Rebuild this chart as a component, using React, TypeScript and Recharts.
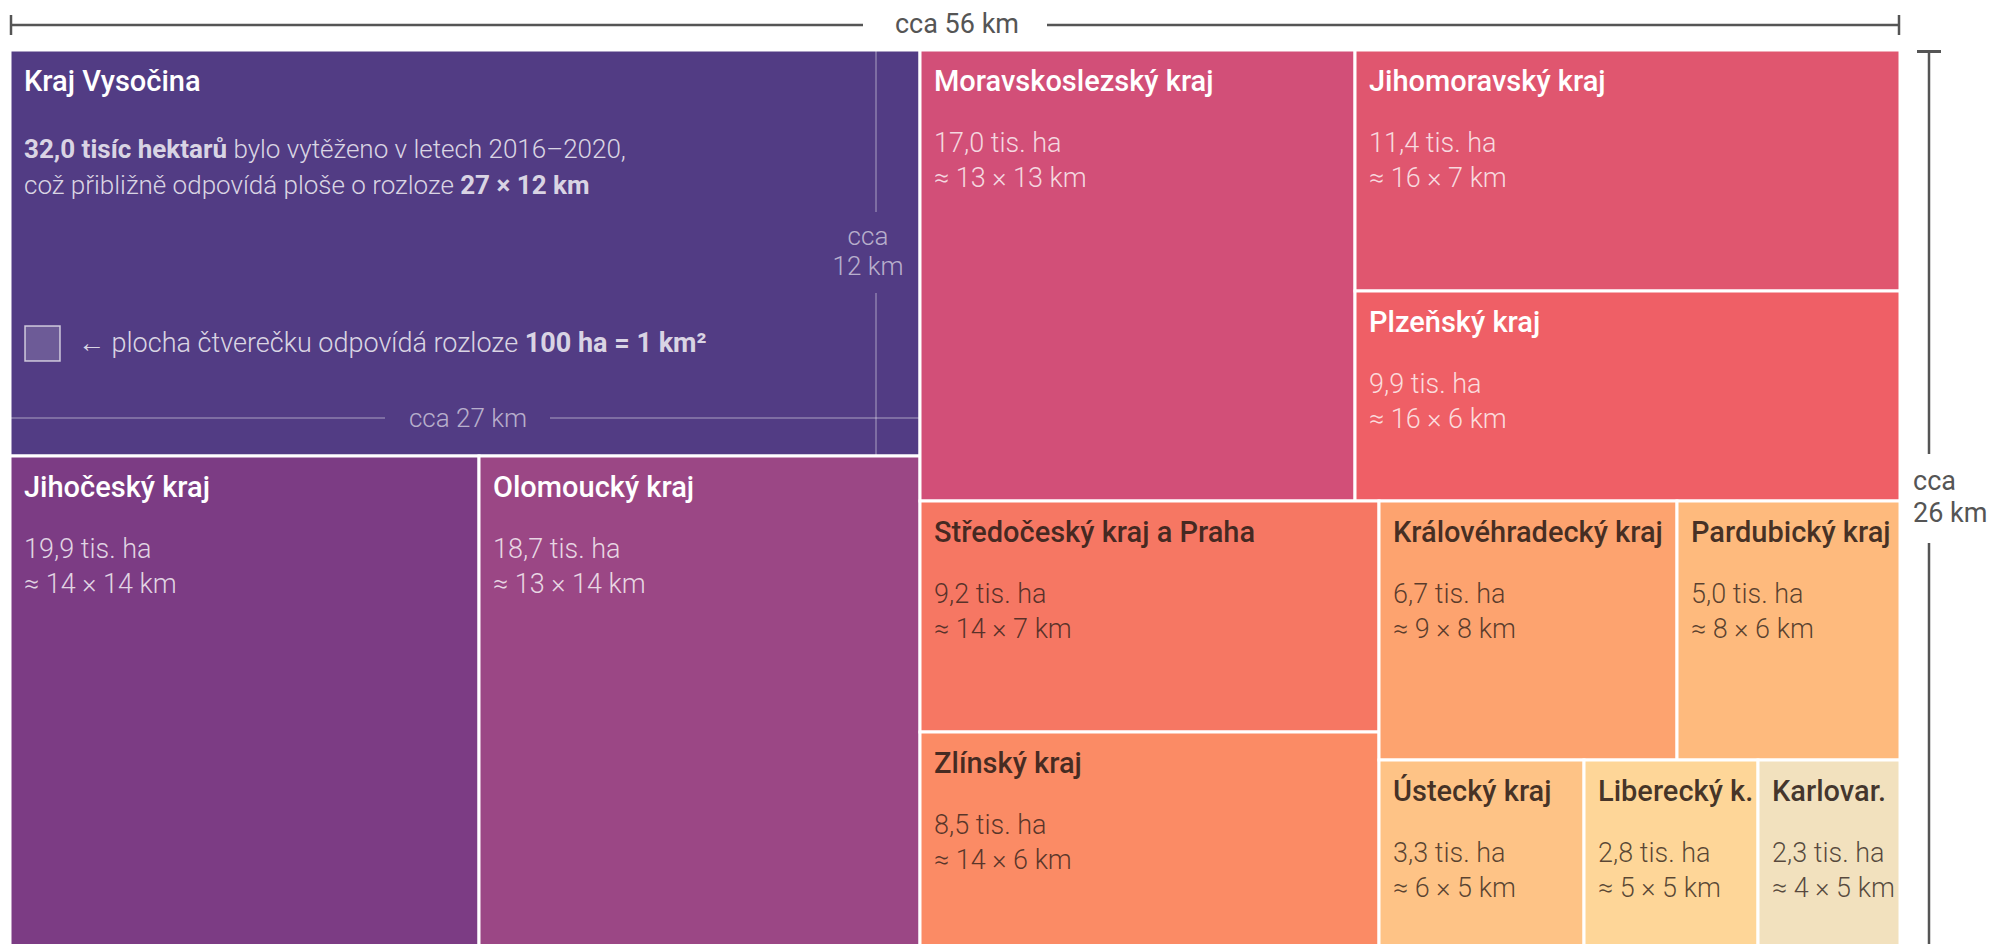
import React from 'react';
import { Treemap } from 'recharts';

// vytěžená plocha v letech 2016–2020, tisíce hektarů
const regions = [
  'Kraj Vysočina',
  'Jihočeský kraj',
  'Olomoucký kraj',
  'Moravskoslezský kraj',
  'Jihomoravský kraj',
  'Plzeňský kraj',
  'Středočeský kraj a Praha',
  'Zlínský kraj',
  'Královéhradecký kraj',
  'Pardubický kraj',
  'Ústecký kraj',
  'Liberecký k.',
  'Karlovar.',
];
const harvested = [32.0, 19.9, 18.7, 17.0, 11.4, 9.9, 9.2, 8.5, 6.7, 5.0, 3.3, 2.8, 2.3];
const sideKm = [
  [27, 12], [14, 14], [13, 14], [13, 13], [16, 7], [16, 6], [14, 7],
  [14, 6], [9, 8], [8, 6], [6, 5], [5, 5], [4, 5],
];
const tileColors = [
  '#523c84', '#7c3c84', '#9b4785', '#d24f78', '#e0566f', '#ef5f66', '#f67763',
  '#fb8b65', '#fda36f', '#feba7d', '#fec386', '#fed698', '#f2e1be',
];

// nesting of the regions (indexes) so the squarify split follows the original
type Nest = number | Nest[];
const nesting: Nest[] = [0, [1, 2], [[3, [4, 5]], [[6, 7], [[8, 9], [10, 11, 12]]]]];

const toNode = (n: Nest): any =>
  typeof n === 'number'
    ? { name: regions[n], size: harvested[n], idx: n }
    : { name: 'skupina', children: n.map(toNode) };
const treeData = nesting.map(toNode);

const fmt = (v: number) => v.toFixed(1).replace('.', ',');
const FONT = 'Roboto, "Noto Sans", sans-serif';
const GREY = '#555';

const VysocinaNotes = ({ x, y, width, height }: any) => {
  const text = 'rgba(255,255,255,0.8)';
  const faint = 'rgba(255,255,255,0.6)';
  const line = 'rgba(255,255,255,0.35)';
  const vx = x + width - 44;
  const hy = y + height - 38;
  return (
    <g>
      <text x={x + 14} y={y + 108} fontSize={26} fontWeight={300} fill={text}>
        <tspan fontWeight={700}>32,0 tisíc hektarů</tspan> bylo vytěženo v letech 2016–2020,
      </text>
      <text x={x + 14} y={y + 144} fontSize={26} fontWeight={300} fill={text}>
        což přibližně odpovídá ploše o rozloze <tspan fontWeight={700}>27 × 12 km</tspan>
      </text>
      <rect x={x + 15} y={y + 276} width={35} height={35} fill="rgba(255,255,255,0.16)" stroke="rgba(255,255,255,0.7)" strokeWidth={1.5} />
      <text x={x + 68} y={y + 302} fontSize={27} fontWeight={300} fill={text}>
        ← plocha čtverečku odpovídá rozloze <tspan fontWeight={700}>100 ha = 1 km²</tspan>
      </text>
      <line x1={vx} x2={vx} y1={y} y2={y + 162} stroke={line} strokeWidth={1.5} />
      <line x1={vx} x2={vx} y1={y + 243} y2={y + height} stroke={line} strokeWidth={1.5} />
      <text x={vx - 8} y={y + 195} fontSize={26} fontWeight={300} fill={faint} textAnchor="middle">cca</text>
      <text x={vx - 8} y={y + 225} fontSize={26} fontWeight={300} fill={faint} textAnchor="middle">12 km</text>
      <line x1={x} x2={x + 375} y1={hy} y2={hy} stroke={line} strokeWidth={1.5} />
      <line x1={x + 540} x2={x + width} y1={hy} y2={hy} stroke={line} strokeWidth={1.5} />
      <text x={x + 458} y={hy + 9} fontSize={26} fontWeight={300} fill={faint} textAnchor="middle">cca 27 km</text>
    </g>
  );
};

const renderTile = (p: any) => {
  const { x, y, width, height, idx, children } = p;
  if ((children && children.length) || idx === undefined) return <g />;
  const light = idx >= 6;
  const titleColor = light ? 'rgba(45,30,25,0.88)' : '#ffffff';
  const valueColor = light ? 'rgba(45,30,25,0.78)' : 'rgba(255,255,255,0.78)';
  const [a, b] = sideKm[idx];
  return (
    <g fontFamily={FONT}>
      <rect x={x} y={y} width={width} height={height} fill={tileColors[idx]} stroke="#fff" strokeWidth={3} />
      <text x={x + 14} y={y + 41} fontSize={29} fontWeight={500} fill={titleColor}>
        {regions[idx]}
      </text>
      {idx === 0 ? (
        <VysocinaNotes x={x} y={y} width={width} height={height} />
      ) : (
        <>
          <text x={x + 14} y={y + 102} fontSize={27} fontWeight={300} fill={valueColor}>
            {fmt(harvested[idx])} tis. ha
          </text>
          <text x={x + 14} y={y + 137} fontSize={27} fontWeight={300} fill={valueColor}>
            ≈ {a} × {b} km
          </text>
        </>
      )}
    </g>
  );
};

export default function App() {
  return (
    <div style={{ position: 'absolute', left: 0, top: 0, width: 1991, height: 944, overflow: 'hidden', background: '#fff', fontFamily: FONT }}>
      <svg width={1991} height={944} style={{ position: 'absolute', left: 0, top: 0 }} fontFamily={FONT}>
        {/* top bracket */}
        <line x1={11} x2={863} y1={25} y2={25} stroke={GREY} strokeWidth={2.5} />
        <line x1={1047} x2={1899} y1={25} y2={25} stroke={GREY} strokeWidth={2.5} />
        <line x1={11} x2={11} y1={15} y2={35} stroke={GREY} strokeWidth={2.5} />
        <line x1={1899} x2={1899} y1={15} y2={35} stroke={GREY} strokeWidth={2.5} />
        <text x={957} y={33} fontSize={27} fill={GREY} textAnchor="middle">cca 56 km</text>
        {/* right bracket */}
        <line x1={1917} x2={1941} y1={51.5} y2={51.5} stroke={GREY} strokeWidth={3} />
        <line x1={1929} x2={1929} y1={51} y2={454} stroke={GREY} strokeWidth={2.5} />
        <line x1={1929} x2={1929} y1={543} y2={944} stroke={GREY} strokeWidth={2.5} />
        <text x={1913} y={490} fontSize={27} fill={GREY}>cca</text>
        <text x={1913} y={522} fontSize={27} fill={GREY}>26 km</text>
      </svg>
      <div style={{ position: 'absolute', left: 10, top: 50 }}>
        <Treemap
          width={1890}
          height={896}
          data={treeData}
          dataKey="size"
          nameKey="name"
          isAnimationActive={false}
          content={renderTile}
        />
      </div>
    </div>
  );
}
